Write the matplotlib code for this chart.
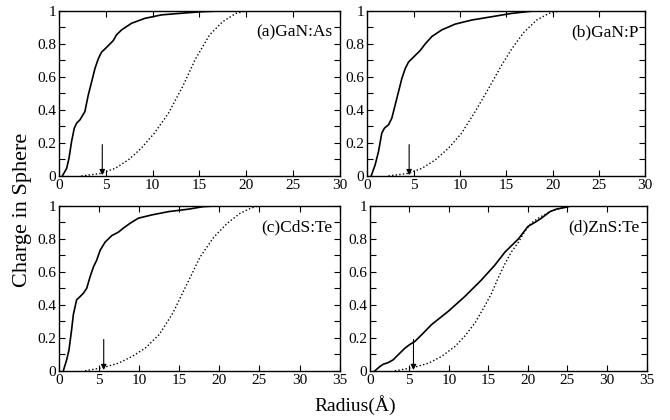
import matplotlib
matplotlib.use("Agg")
import matplotlib.pyplot as plt
from matplotlib.ticker import MultipleLocator

plt.rcParams["font.family"] = ["Liberation Serif", "DejaVu Serif"]

# (a) GaN:As
a_solid_r = [0.36, 0.82, 1.07, 1.35, 1.64, 1.89, 2.24, 2.77, 3.13, 3.49, 3.84, 4.2, 4.55, 5.1,
             5.8, 6.15, 6.69, 7.75, 9.18, 10.96, 13.1, 15.2, 17.5]
a_solid_q = [0.0, 0.046, 0.107, 0.21, 0.29, 0.32, 0.34, 0.39, 0.49, 0.57, 0.65, 0.71, 0.75, 0.78,
             0.82, 0.855, 0.885, 0.925, 0.955, 0.976, 0.986, 0.995, 1.0]
a_dot_r = [2.4, 4.5, 6.0, 7.4, 8.8, 10.2, 11.7, 13.2, 14.6, 16.1, 17.5, 18.9, 20.0]
a_dot_q = [0.0, 0.016, 0.046, 0.097, 0.168, 0.26, 0.38, 0.54, 0.71, 0.855, 0.935, 0.985, 1.0]

# (b) GaN:P
b_solid_r = [0.43, 0.86, 1.22, 1.58, 1.87, 2.3, 2.66, 3.02, 3.38, 3.74, 4.1, 4.46, 5.0, 5.72,
             6.26, 6.98, 8.05, 9.49, 11.3, 13.45, 15.6, 18.0]
b_solid_q = [0.0, 0.067, 0.147, 0.26, 0.29, 0.31, 0.35, 0.43, 0.51, 0.59, 0.65, 0.69, 0.72, 0.76,
             0.80, 0.845, 0.885, 0.92, 0.945, 0.965, 0.985, 1.0]
b_dot_r = [2.3, 4.46, 5.9, 7.34, 8.77, 10.2, 11.65, 13.1, 14.5, 15.6, 16.9, 18.3, 19.6, 20.8]
b_dot_q = [0.0, 0.016, 0.046, 0.097, 0.168, 0.26, 0.39, 0.53, 0.67, 0.77, 0.87, 0.945, 0.985, 1.0]

# (c) CdS:Te
c_solid_r = [0.54, 0.96, 1.25, 1.58, 1.79, 2.2, 2.63, 3.04, 3.46, 3.88, 4.3, 4.7, 5.13, 5.75,
             6.6, 7.4, 8.04, 8.9, 9.9, 11.6, 13.7, 16.2, 18.0, 20.0]
c_solid_q = [0.0, 0.067, 0.127, 0.25, 0.34, 0.43, 0.45, 0.47, 0.50, 0.57, 0.63, 0.67, 0.73, 0.78,
             0.82, 0.84, 0.865, 0.895, 0.925, 0.945, 0.965, 0.98, 0.995, 1.0]
c_dot_r = [3.25, 5.5, 7.4, 9.1, 10.75, 12.5, 14.2, 16.0, 17.6, 19.3, 21.0, 22.6, 23.9, 24.9]
c_dot_q = [0.0, 0.02, 0.046, 0.087, 0.137, 0.22, 0.35, 0.53, 0.69, 0.81, 0.895, 0.955, 0.985, 1.0]

# (d) ZnS:Te
d_solid_r = [0.63, 1.26, 1.69, 2.32, 2.95, 3.58, 4.42, 5.06, 5.69, 6.74, 7.8, 9.9, 12.0, 14.1,
             15.8, 17.1, 18.8, 20.0, 20.9, 21.7, 22.8, 23.6, 24.7, 25.5]
d_solid_q = [0.0, 0.026, 0.04, 0.05, 0.067, 0.097, 0.137, 0.16, 0.178, 0.228, 0.28, 0.36, 0.45, 0.55,
             0.64, 0.72, 0.80, 0.875, 0.90, 0.925, 0.965, 0.98, 0.99, 1.0]
d_dot_r = [3.16, 5.48, 7.4, 9.06, 10.75, 12.0, 13.3, 14.5, 15.4, 16.2, 17.1, 17.9, 18.8, 19.6,
           20.4, 21.3, 22.8, 24.4, 25.5]
d_dot_q = [0.0, 0.02, 0.046, 0.087, 0.147, 0.21, 0.29, 0.39, 0.47, 0.56, 0.65, 0.72, 0.78, 0.845,
           0.895, 0.925, 0.965, 0.99, 1.0]

labels = ["(a)GaN:As", "(b)GaN:P", "(c)CdS:Te", "(d)ZnS:Te"]
xmax = [30, 30, 35, 35]
arrow_r = [4.63, 4.53, 5.58, 5.52]

panels = [
    (a_solid_r, a_solid_q, a_dot_r, a_dot_q),
    (b_solid_r, b_solid_q, b_dot_r, b_dot_q),
    (c_solid_r, c_solid_q, c_dot_r, c_dot_q),
    (d_solid_r, d_solid_q, d_dot_r, d_dot_q),
]

rects = [
    [0.088, 0.581, 0.419, 0.393],
    [0.548, 0.581, 0.415, 0.393],
    [0.088, 0.117, 0.419, 0.393],
    [0.552, 0.117, 0.413, 0.393],
]

fig = plt.figure(figsize=(6.7, 4.2), dpi=100)

for i, (sr, sq, dr, dq) in enumerate(panels):
    ax = fig.add_axes(rects[i])
    ax.plot(sr, sq, color="black", lw=1.2, solid_joinstyle="round")
    ax.plot(dr, dq, color="black", lw=1.0, linestyle=(0, (1, 1.6)))
    ax.annotate("", xy=(arrow_r[i], 0.005), xytext=(arrow_r[i], 0.19),
                arrowprops=dict(arrowstyle="-|>", color="black", lw=0.8,
                                mutation_scale=8, shrinkA=0, shrinkB=0))
    ax.text(0.975, 0.87, labels[i], transform=ax.transAxes,
            ha="right", va="center", fontsize=12.5)
    ax.set_xlim(0, xmax[i])
    ax.set_ylim(0, 1)
    ax.xaxis.set_major_locator(MultipleLocator(5))
    ax.yaxis.set_minor_locator(MultipleLocator(0.1))
    ax.set_yticks([0, 0.2, 0.4, 0.6, 0.8, 1.0])
    ax.set_yticklabels(["0", "0.2", "0.4", "0.6", "0.8", "1"])
    ax.tick_params(which="both", direction="in", top=True, right=True,
                   labelsize=11, pad=2, length=4, width=0.8)
    for spine in ax.spines.values():
        spine.set_linewidth(1.0)

fig.text(0.033, 0.5, "Charge in Sphere", rotation=90, ha="center", va="center", fontsize=16)
fig.text(0.53, 0.035, "Radius(Å)", ha="center", va="center", fontsize=14)

fig.savefig("out.png", dpi=100)
